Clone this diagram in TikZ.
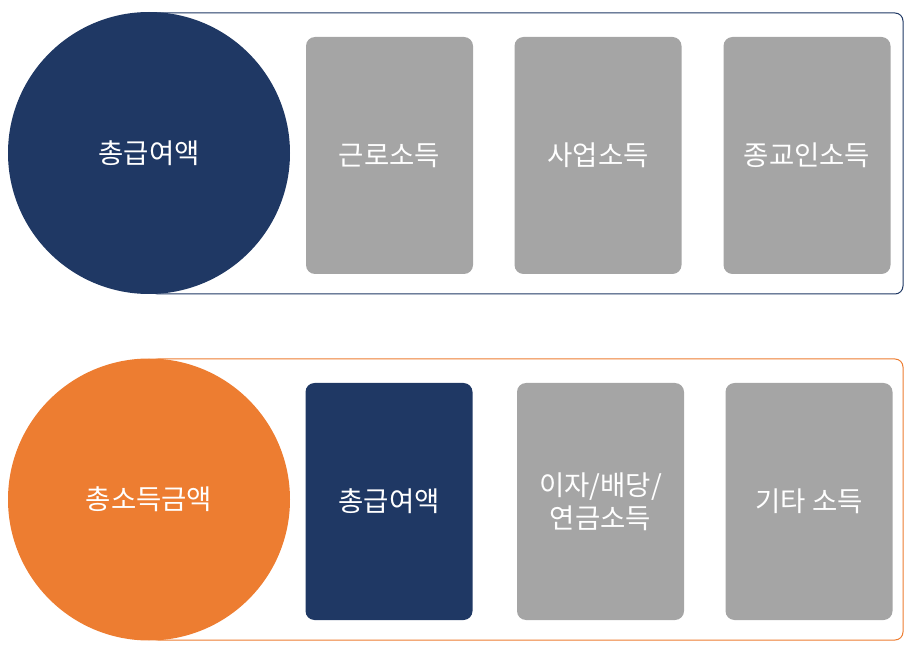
\documentclass[tikz,border=0pt]{standalone}
\usepackage{fontspec}
\newfontfamily\kr{Noto Sans CJK KR}
\definecolor{navy}{HTML}{1F3864}
\definecolor{org}{HTML}{ED7D31}
\definecolor{gry}{HTML}{A5A5A5}
\begin{document}
\begin{tikzpicture}[x=1pt,y=-1pt,
  frame/.style={line width=1pt,rounded corners=8pt},
  disc/.style={circle,inner sep=0pt,minimum size=282pt,text=white,font=\kr\fontsize{27.5}{33}\selectfont},
  card/.style={rounded corners=9pt,inner sep=0pt,minimum width=167pt,minimum height=237pt,text=white,align=center,font=\kr\fontsize{27.5}{33}\selectfont}]
\useasboundingbox (0,0) rectangle (914,655);
% top row
\draw[frame,navy] (150,13) rectangle (903,294);
\node[disc,fill=navy] (c1) at (149,153) {총급여액};
\node[card,fill=gry] (a1) at (389.5,155.5) {근로소득};
\node[card,fill=gry] (a2) at (598,155.5) {사업소득};
\node[card,fill=gry] (a3) at (807,155.5) {종교인소득};
% bottom row
\draw[frame,org] (150,359) rectangle (903,640);
\node[disc,fill=org] (c2) at (149,499.5) {총소득금액};
\node[card,fill=navy] (b1) at (389,501.5) {총급여액};
\node[card,fill=gry] (b2) at (600.5,501.5) {이자/배당/\\연금소득};
\node[card,fill=gry] (b3) at (809,501.5) {기타 소득};
\end{tikzpicture}
\end{document}
